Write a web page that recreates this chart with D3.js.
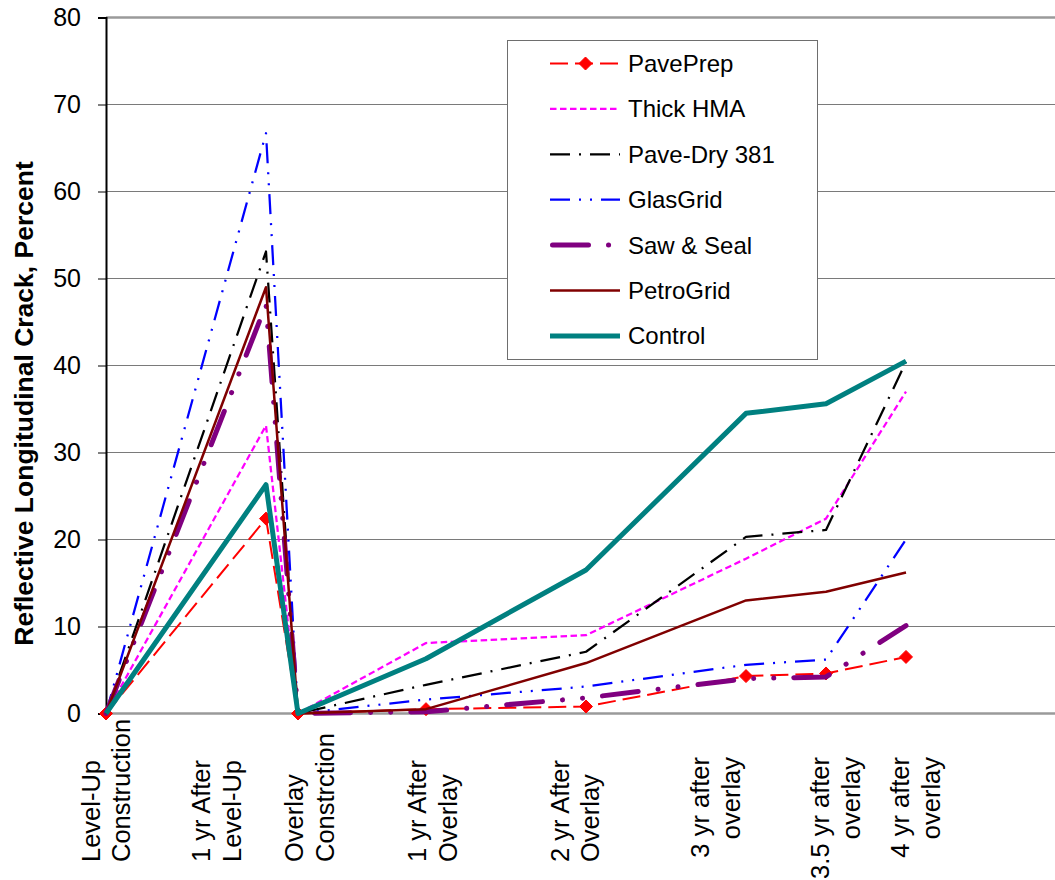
<!DOCTYPE html>
<html>
<head>
<meta charset="utf-8">
<script src="https://cdn.jsdelivr.net/npm/d3@7/dist/d3.min.js"></script>
<style>
  html, body { margin: 0; padding: 0; background: #fff; }
  svg { display: block; }
  text { font-family: "Liberation Sans", Arial, sans-serif; fill: #000; }
</style>
</head>
<body>
<svg id="chart" width="1055" height="880"></svg>
<script>
// ---- data ----
const stages = [0, 1, 1.2, 2, 3, 4, 4.5, 5];            // time position of each survey
const stageLabels = [
  ["Level-Up", "Construction"],
  ["1 yr After", "Level-Up"],
  ["Overlay", "Constrction"],
  ["1 yr After", "Overlay"],
  ["2 yr After", "Overlay"],
  ["3 yr after", "overlay"],
  ["3.5 yr after", "overlay"],
  ["4 yr after", "overlay"]
];
const labelAt = [0, 0.69, 1.27, 2.04, 2.93, 3.81, 4.56, 5.06]; // where the stage captions sit (time units)
const yTicks = [0, 10, 20, 30, 40, 50, 60, 70, 80];

const seriesNames = ["PavePrep", "Thick HMA", "Pave-Dry 381", "GlasGrid", "Saw & Seal", "PetroGrid", "Control"];
const pavePrep  = [0, 22.4, 0, 0.5, 0.8, 4.3, 4.6, 6.5];
const thickHMA  = [0, 33.1, 0, 8.1, 9.0, 17.8, 22.4, 37.0];
const paveDry   = [0, 53.1, 0, 3.3, 7.1, 20.3, 21.1, 40.4];
const glasGrid  = [0, 66.7, 0, 1.6, 3.1, 5.6, 6.2, 20.0];
const sawSeal   = [0, 47.0, 0, 0.2, 1.8, 4.0, 4.2, 10.1];
const petroGrid = [0, 49.0, 0, 0.5, 5.8, 13.0, 14.0, 16.2];
const control   = [0, 26.3, 0, 6.3, 16.5, 34.5, 35.6, 40.5];
const seriesValues = [pavePrep, thickHMA, paveDry, glasGrid, sawSeal, petroGrid, control];

// ---- styles ----
const styles = [
  { color: "#FF0000", width: 2,    dash: "18,7",                  cap: "butt",  marker: true },
  { color: "#FF00FF", width: 2.25, dash: "6.5,3.5",               cap: "butt" },
  { color: "#000000", width: 2.25, dash: "20,9,2,9",              cap: "butt" },
  { color: "#0000FF", width: 2.25, dash: "20,9,2,9,2,9",          cap: "butt" },
  { color: "#800080", width: 5,    dash: "36,20,0.1,20,0.1,20",   cap: "round" },
  { color: "#800000", width: 2.5,  dash: null,                    cap: "butt" },
  { color: "#008080", width: 5,    dash: null,                    cap: "butt" }
];

const svg = d3.select("#chart");
svg.append("rect").attr("width", 1055).attr("height", 880).attr("fill", "#fff");

const x = d3.scaleLinear().domain([0, 6]).range([106, 1066]);
const y = d3.scaleLinear().domain([0, 80]).range([713.5, 17.5]);

// gridlines
const grid = svg.append("g");
grid.selectAll("line").data(yTicks.filter(t => t > 0 && t < 80)).join("line")
  .attr("x1", x(0)).attr("x2", 1055)
  .attr("y1", d => y(d)).attr("y2", d => y(d))
  .attr("stroke", "#7a7a7a").attr("stroke-width", 1.2);
grid.append("line").attr("x1", x(0)).attr("x2", 1055).attr("y1", y(80)).attr("y2", y(80))
  .attr("stroke", "#9a9a9a").attr("stroke-width", 2.5);
grid.append("line").attr("x1", x(0)).attr("x2", 1055).attr("y1", y(0)).attr("y2", y(0))
  .attr("stroke", "#9a9a9a").attr("stroke-width", 2.5);

// y axis
const yAxis = d3.axisLeft(y).tickValues(yTicks).tickSize(8).tickPadding(17).tickFormat(d3.format("d"));
const ya = svg.append("g").attr("transform", `translate(${x(0)},0)`).call(yAxis);
ya.select(".domain").attr("stroke", "#000").attr("stroke-width", 2);
ya.selectAll(".tick line").attr("stroke", "#000").attr("stroke-width", 1);
ya.selectAll(".tick text").attr("font-size", 25).attr("font-family", "Liberation Sans, Arial, sans-serif").attr("fill", "#000");

// y axis title
svg.append("text")
  .attr("transform", `translate(33,403.5) rotate(-90)`)
  .attr("text-anchor", "middle")
  .attr("font-size", 26.5).attr("font-weight", "bold")
  .text("Reflective Longitudinal Crack, Percent");

// x stage labels
const fs = 25.5, lineH = 30.5, capHalf = 0.716 * fs / 2;
stageLabels.forEach((lines, i) => {
  const bottomAligned = i < 5;
  const t = svg.append("text")
    .attr("transform", `translate(${x(labelAt[i])},${bottomAligned ? 862 : 757}) rotate(-90)`)
    .attr("text-anchor", bottomAligned ? "start" : "end")
    .attr("font-size", fs);
  lines.forEach((ln, j) => {
    t.append("tspan").attr("x", 0)
      .attr("y", (j - (lines.length - 1) / 2) * lineH + capHalf)
      .text(ln);
  });
});

// series
const line = d3.line().x((d, i) => x(stages[i])).y(d => y(d));
const diamond = "M0,-6.5L6.5,0L0,6.5L-6.5,0Z";
seriesValues.forEach((vals, k) => {
  const s = styles[k];
  svg.append("path").datum(vals)
    .attr("d", line)
    .attr("fill", "none")
    .attr("stroke", s.color)
    .attr("stroke-width", s.width)
    .attr("stroke-linecap", s.cap)
    .attr("stroke-linejoin", "round")
    .attr("stroke-dasharray", s.dash);
  if (s.marker) {
    svg.append("g").selectAll("path").data(vals).join("path")
      .attr("d", diamond)
      .attr("transform", (d, i) => `translate(${x(stages[i])},${y(d)})`)
      .attr("fill", s.color).attr("stroke", s.color).attr("stroke-width", 1);
  }
});

// legend
const lg = svg.append("g");
lg.append("rect").attr("x", 507.5).attr("y", 40.5).attr("width", 310).attr("height", 319)
  .attr("fill", "#fff").attr("stroke", "#6e6e6e").attr("stroke-width", 1);
seriesNames.forEach((name, k) => {
  const s = styles[k];
  const cy = 63.5 + k * 45.4;
  const x0 = s.cap === "round" ? 552.5 : 550;
  lg.append("line").attr("x1", x0).attr("x2", 620).attr("y1", cy).attr("y2", cy)
    .attr("stroke", s.color).attr("stroke-width", s.width)
    .attr("stroke-linecap", s.cap)
    .attr("stroke-dasharray", s.dash);
  if (s.marker) {
    lg.append("path").attr("d", diamond).attr("transform", `translate(585.5,${cy})`)
      .attr("fill", s.color).attr("stroke", s.color);
  }
  lg.append("text").attr("x", 628).attr("y", cy + 8.5).attr("font-size", 24).text(name);
});
</script>
</body>
</html>
